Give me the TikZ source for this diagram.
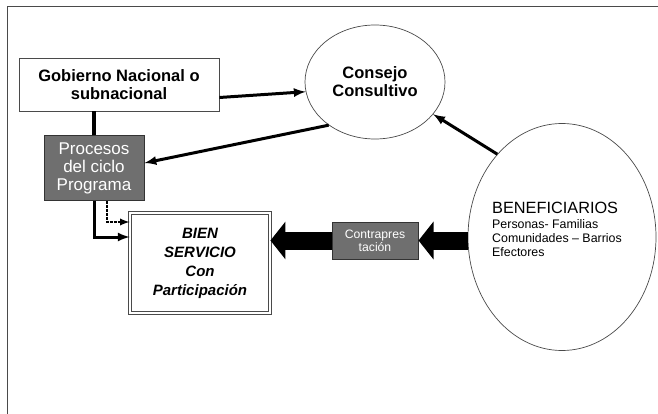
\documentclass[tikz,border=0pt]{standalone}
\usepackage{fontspec}
\setmainfont{Liberation Sans}
\usetikzlibrary{shapes.geometric,arrows.meta}
\definecolor{boxgray}{HTML}{6F6F6F}
\definecolor{linegray}{HTML}{4A4A4A}
\tikzset{
  plainbox/.style={draw=linegray,fill=white,line width=0.8pt,inner sep=0pt},
  graybox/.style={draw=black!80,fill=boxgray,text=white,line width=1pt,inner sep=0pt,align=center},
  oval/.style={ellipse,draw=linegray,line width=0.7pt,inner sep=0pt},
  flow/.style={-latex,line width=3pt},
  bigflow/.style={-{Triangle[width=37pt,length=15pt]},line width=18pt}
}
\begin{document}
\begin{tikzpicture}[x=1pt,y=-1pt]
   \useasboundingbox (0,0) rectangle (658,414);
   \draw[linegray,line width=1pt] (658,7) -- (7,7) -- (7,414);

   \node[plainbox,minimum width=200pt,minimum height=53pt,align=center,
         font=\bfseries\fontsize{16.5}{18}\selectfont] (gob) at (119,84.5)
         {Gobierno Nacional o\\subnacional};
   \node[oval,minimum width=140pt,minimum height=114pt,align=center,
         font=\bfseries\fontsize{16.5}{18}\selectfont] (cons) at (375,82)
         {Consejo\\Consultivo};
   \node[graybox,minimum width=100pt,minimum height=64pt,
         font=\fontsize{17}{18}\selectfont] (proc) at (94,168)
         {Procesos\\del ciclo\\Programa};
   \node[draw=linegray,double=white,double distance=2.2pt,line width=0.9pt,
         minimum width=140pt,minimum height=100pt,inner sep=0pt,align=center,
         font=\bfseries\itshape\fontsize{15}{19}\selectfont] (bien) at (200,263)
         {BIEN\\SERVICIO\\Con\\Participación};
   \node[graybox,minimum width=86pt,minimum height=37pt,
         font=\fontsize{12.2}{13}\selectfont] (contra) at (375,240.5)
         {Contrapres\\tación};
   \node[oval,minimum width=188pt,minimum height=227pt] (bene) at (562,237) {};
   \node[anchor=north west,inner sep=0pt,align=left,
         font=\fontsize{12.4}{14}\selectfont] (benetxt) at ([xshift=-70pt,yshift=35pt]bene.center)
         {{\fontsize{16.3}{18}\selectfont BENEFICIARIOS}\\[1pt]
          Personas- Familias\\
          Comunidades – Barrios\\
          Efectores};

   \draw[line width=4pt] (proc.north) -- (proc.north |- gob.south);
   \draw[flow] ([yshift=-13pt]gob.east) -- (cons.188);
   \draw[flow] (cons.223) -- ([yshift=5pt]proc.east);
   \draw[flow] (bene.128) -- (cons.331);
   \draw[flow] (proc.south) |- ([yshift=26pt]bien.west);
   \draw[flow,densely dotted,line width=2.2pt] ([xshift=13pt]proc.south) |- ([yshift=41pt]bien.west);
   \draw[bigflow] (contra.west) -- (contra.west -| bien.east);
   \draw[bigflow] (bene.west |- contra.east) -- (contra.east);
\end{tikzpicture}
\end{document}
